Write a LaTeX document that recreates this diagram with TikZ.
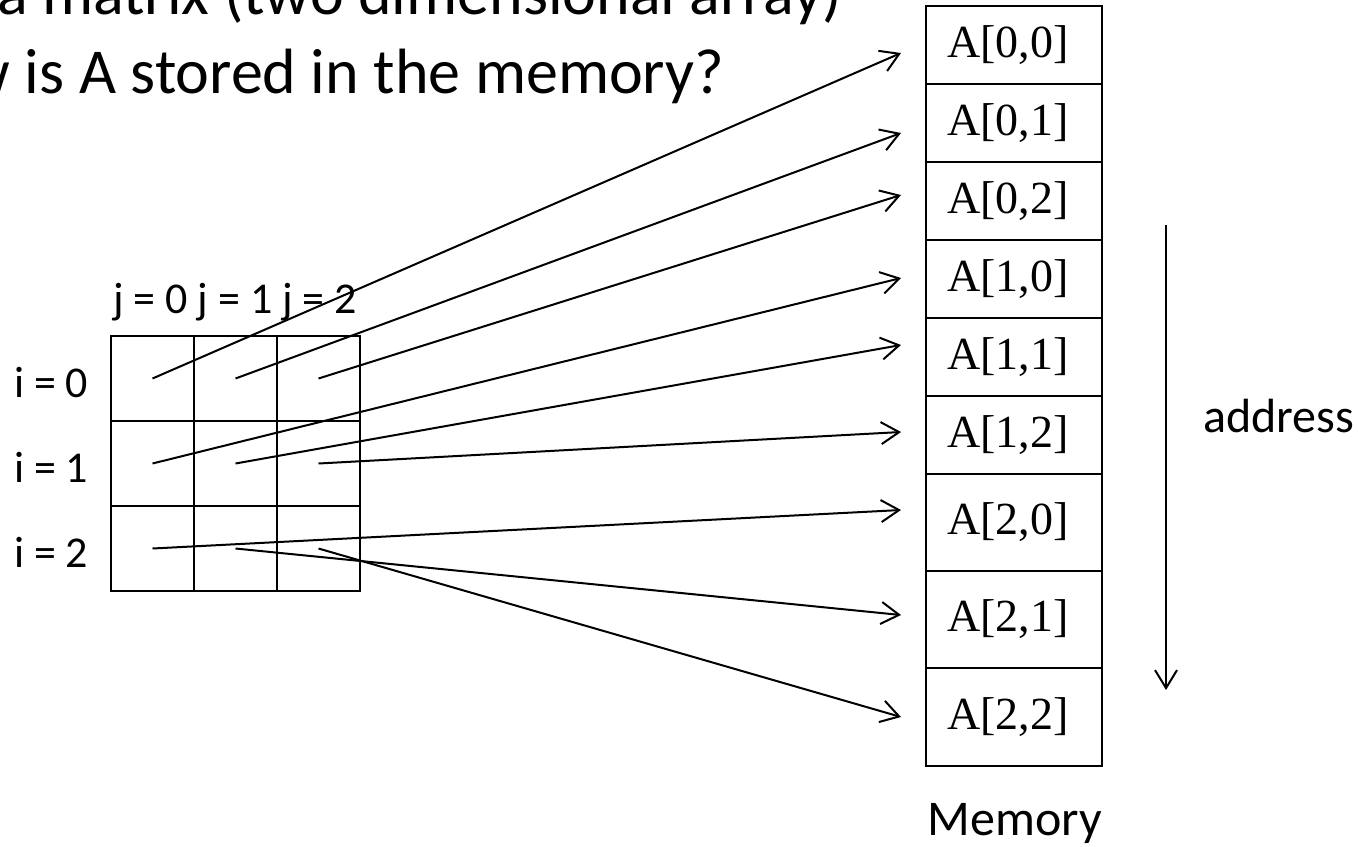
\documentclass[tikz,border=0pt]{standalone}
\usepackage{fontspec}
\setmainfont{Carlito}
\newfontfamily\cellfont{Liberation Serif}
\usetikzlibrary{positioning,arrows.meta}

\tikzset{
  cell/.style={draw, line width=1.3pt, minimum width=41.5pt, minimum height=42.5pt, inner sep=0pt},
  memcell/.style={draw, line width=1.3pt, outer sep=0pt, inner xsep=10.5pt, inner ysep=0pt,
    text width=67pt, align=left, font=\cellfont\fontsize{23}{23}\selectfont},
  link/.style={line width=1pt, -{Straight Barb[length=9pt,width=11pt]}},
  lbl/.style={font=\fontsize{22}{26}\selectfont, inner sep=0pt},
  big/.style={font=\fontsize{32}{38}\selectfont, inner sep=0pt, anchor=base west},
  side/.style={font=\fontsize{24}{28}\selectfont, inner sep=0pt, anchor=base west},
}

\begin{document}
\begin{tikzpicture}[x=0.5pt,y=-0.5pt]
  \useasboundingbox (0,0) rectangle (1358,846);
  \clip (0,0) rectangle (1358,846);

  % heading, runs off the page edge
  \node[big] (head1) at (-109,14) {A is a matrix (two dimensional array)};
  \node[big] (head2) at (-109,93) {How is A stored in the memory?};

  % the 3x3 matrix A
  \foreach \i in {0,1,2} {
    \foreach \j in {0,1,2} {
      \node[cell] (c\i\j) at ({152.5+83*\j},{378.5+85*\i}) {};
    }
  }
  \node[lbl, anchor=base west] (jlab) at (113,313) {j = 0 j = 1 j = 2};
  \foreach \i in {0,1,2} {
    \node[lbl, left=10.5pt of c\i0, yshift=-2pt] (ilab\i) {i = \i};
  }

  % memory, one cell per element
  \node[memcell, minimum height=39pt, anchor=north west] (m00) at (926,6) {A[0,0]};
  \node[memcell, minimum height=39pt, below=0pt of m00] (m01) {A[0,1]};
  \node[memcell, minimum height=39pt, below=0pt of m01] (m02) {A[0,2]};
  \node[memcell, minimum height=39pt, below=0pt of m02] (m10) {A[1,0]};
  \node[memcell, minimum height=39pt, below=0pt of m10] (m11) {A[1,1]};
  \node[memcell, minimum height=39pt, below=0pt of m11] (m12) {A[1,2]};
  \node[memcell, minimum height=48.5pt, below=0pt of m12] (m20) {A[2,0]};
  \node[memcell, minimum height=48.5pt, below=0pt of m20] (m21) {A[2,1]};
  \node[memcell, minimum height=49pt, below=0pt of m21] (m22) {A[2,2]};
  \node[side, font=\fontsize{25}{30}\selectfont] (memlab) at (927,835) {Memory};

  % arrow tips, just left of the memory
  \coordinate (t00) at (901,53);
  \coordinate (t01) at (901,133);
  \coordinate (t02) at (901,195);
  \coordinate (t10) at (901,278);
  \coordinate (t11) at (901,345);
  \coordinate (t12) at (901,432);
  \coordinate (t20) at (901,510);
  \coordinate (t21) at (901,615);
  \coordinate (t22) at (901,717);
  \foreach \i in {0,1,2} {
    \foreach \j in {0,1,2} {
      \draw[link] (c\i\j.center) -- (t\i\j);
    }
  }

  % direction of growing addresses
  \coordinate (atop) at (1166,225);
  \coordinate (abot) at (1166,690);
  \draw[link] (atop) -- (abot);
  \node[side] (addr) at (1203,432) {address};
\end{tikzpicture}
\end{document}
